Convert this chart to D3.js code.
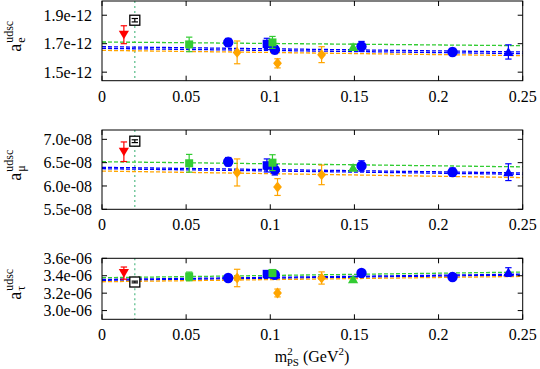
<!DOCTYPE html>
<html><head><meta charset="utf-8">
<script src="https://cdn.jsdelivr.net/npm/d3@7"></script>
<style>body{margin:0;background:#fff} svg{display:block} text{font-family:"Liberation Serif","DejaVu Serif",serif;fill:#000}</style>
</head><body><svg id="c" width="540" height="369"></svg>
<script>
// ---------- data ----------
const xTicks = [0, 0.05, 0.1, 0.15, 0.2, 0.25];
const xTickLabels = ["0", "0.05", "0.1", "0.15", "0.2", "0.25"];
const physX = 0.0195;
const panelKeys = ["e", "mu", "tau"];
const panelSubs = ["e", "μ", "τ"];
const yDomains = {e: [1.44, 2.0], mu: [5.5, 7.2], tau: [2.9, 3.6]};
const yTicks = {e: [1.5, 1.7, 1.9], mu: [5.5, 6.0, 6.5, 7.0], tau: [3.0, 3.2, 3.4, 3.6]};
const yExp = {e: "e-12", mu: "e-08", tau: "e-06"};

// [value, error] per panel
const blueCircles = [
  {x: 0.0750, e: [1.709, 0.028], mu: [6.520, 0.09], tau: [3.374, 0.04]},
  {x: 0.1027, e: [1.658, 0.028], mu: [6.345, 0.11], tau: [3.411, 0.04]},
  {x: 0.1542, e: [1.681, 0.035], mu: [6.430, 0.11], tau: [3.431, 0.03]},
  {x: 0.2083, e: [1.642, 0.025], mu: [6.296, 0.09], tau: [3.385, 0.03]}
];
const blueSquares = [
  {x: 0.0980, e: [1.698, 0.040], mu: [6.440, 0.14], tau: [3.419, 0.04]}
];
const blueTriangles = [
  {x: 0.2415, e: [1.642, 0.050], mu: [6.296, 0.18], tau: [3.442, 0.05]}
];
const greenSquares = [
  {x: 0.0518, e: [1.695, 0.051], mu: [6.487, 0.19], tau: [3.392, 0.05]},
  {x: 0.1013, e: [1.709, 0.042], mu: [6.500, 0.17], tau: [3.431, 0.04]}
];
const greenTriangles = [
  {x: 0.1492, e: [1.677, 0.020], mu: [6.394, 0.06], tau: [3.362, 0.02]}
];
const orangeDiamonds = [
  {x: 0.0803, e: [1.639, 0.080], mu: [6.290, 0.29], tau: [3.374, 0.10]},
  {x: 0.1043, e: [1.562, 0.032], mu: [5.977, 0.18], tau: [3.202, 0.045]},
  {x: 0.1305, e: [1.623, 0.056], mu: [6.238, 0.21], tau: [3.374, 0.07]}
];
const redTriangles = [
  {x: 0.0130, e: [1.763, 0.063], mu: [6.734, 0.21], tau: [3.430, 0.07]}
];
const blackSquares = [
  {x: 0.0195, e: [1.865, 0.012], mu: [6.960, 0.03], tau: [3.328, 0.01]}
];
// fit lines: values at x = 0 and x = 0.25
const fitX = [0, 0.25];
const greenFit = {e: [1.712, 1.686], mu: [6.52, 6.41], tau: [3.377, 3.442]};
const blueFitA = {e: [1.679, 1.642], mu: [6.40, 6.28], tau: [3.357, 3.418]};
const blueFitB = {e: [1.667, 1.630], mu: [6.37, 6.25], tau: [3.347, 3.408]};
const orangeFit = {e: [1.653, 1.616], mu: [6.32, 6.18], tau: [3.331, 3.392]};

// ---------- layout ----------
const svg = d3.select("#c");
const X0 = 102, X1 = 522.7;
const panelBox = [[1, 80.7], [130, 209.3], [258.3, 319.3]];
const x = d3.scaleLinear().domain([0, 0.25]).range([X0, X1]);
const COL = {blue: "#0000ff", green: "#33cc33", orange: "#ffa500", red: "#ff0000", black: "#000", vline: "#55bb88"};

panelKeys.forEach((k, i) => {
  const [top, bot] = panelBox[i];
  const y = d3.scaleLinear().domain(yDomains[k]).range([bot, top]);
  const g = svg.append("g");

  // vertical physical point line
  g.append("line").attr("x1", x(physX)).attr("x2", x(physX)).attr("y1", top).attr("y2", bot)
    .attr("stroke", COL.vline).attr("stroke-width", 1.2).attr("stroke-dasharray", "2,3");

  // fit lines
  const fits = [[greenFit, COL.green], [blueFitA, COL.blue], [blueFitB, COL.blue], [orangeFit, COL.orange]];
  fits.forEach(([f, c]) => {
    g.append("line").attr("x1", x(fitX[0])).attr("x2", x(fitX[1]))
      .attr("y1", y(f[k][0])).attr("y2", y(f[k][1]))
      .attr("stroke", c).attr("stroke-width", 1.3).attr("stroke-dasharray", "4,2");
  });

  function errbars(data, color) {
    data.forEach(d => {
      const [v, e] = d[k];
      const cx = x(d.x);
      g.append("line").attr("x1", cx).attr("x2", cx).attr("y1", y(v - e)).attr("y2", y(v + e))
        .attr("stroke", color).attr("stroke-width", 1.2);
      [v - e, v + e].forEach(t => g.append("line").attr("x1", cx - 3.2).attr("x2", cx + 3.2)
        .attr("y1", y(t)).attr("y2", y(t)).attr("stroke", color).attr("stroke-width", 1.2));
    });
  }
  function markers(data, color, type, size) {
    errbars(data, color);
    data.forEach(d => {
      g.append("path").attr("d", d3.symbol().type(type).size(size)())
        .attr("transform", `translate(${x(d.x)},${y(d[k][0])})`)
        .attr("fill", color);
    });
  }
  const downTri = {draw(ctx, size) {const s = Math.sqrt(size) * 0.62; ctx.moveTo(-s, -s * 0.8); ctx.lineTo(s, -s * 0.8); ctx.lineTo(0, s * 0.9); ctx.closePath();}};
  const upTri = {draw(ctx, size) {const s = Math.sqrt(size) * 0.62; ctx.moveTo(-s, s * 0.8); ctx.lineTo(s, s * 0.8); ctx.lineTo(0, -s * 0.9); ctx.closePath();}};
  const diamond = {draw(ctx, size) {const s = Math.sqrt(size) * 0.62; ctx.moveTo(0, -s); ctx.lineTo(s * 0.8, 0); ctx.lineTo(0, s); ctx.lineTo(-s * 0.8, 0); ctx.closePath();}};

  markers(orangeDiamonds, COL.orange, diamond, 78);
  markers(blueSquares, COL.blue, d3.symbolSquare, 72);
  markers(blueCircles, COL.blue, d3.symbolCircle, 85);
  markers(blueTriangles, COL.blue, upTri, 68);
  markers(greenSquares, COL.green, d3.symbolSquare, 64);
  markers(greenTriangles, COL.green, upTri, 68);
  markers(redTriangles, COL.red, downTri, 68);
  // open black square
  blackSquares.forEach(d => {
    const cx = x(d.x), cy = y(d[k][0]);
    g.append("rect").attr("x", cx - 5).attr("y", cy - 5).attr("width", 10).attr("height", 10)
      .attr("fill", "#fff").attr("stroke", "#000").attr("stroke-width", 1.3);
  });
  errbars(blackSquares, COL.black);

  // frame
  g.append("rect").attr("x", X0).attr("y", top).attr("width", X1 - X0).attr("height", bot - top)
    .attr("fill", "none").attr("stroke", "#000").attr("stroke-width", 1);
  // ticks
  xTicks.forEach((t, j) => {
    const px = x(t);
    g.append("line").attr("x1", px).attr("x2", px).attr("y1", bot).attr("y2", bot - 5).attr("stroke", "#000");
    g.append("line").attr("x1", px).attr("x2", px).attr("y1", top).attr("y2", top + 5).attr("stroke", "#000");
    g.append("text").attr("x", px).attr("y", bot + 21).attr("text-anchor", "middle")
      .attr("font-size", 16).text(xTickLabels[j]);
  });
  yTicks[k].forEach(t => {
    const py = y(t);
    g.append("line").attr("x1", X0).attr("x2", X0 + 5).attr("y1", py).attr("y2", py).attr("stroke", "#000");
    g.append("line").attr("x1", X1).attr("x2", X1 - 5).attr("y1", py).attr("y2", py).attr("stroke", "#000");
    g.append("text").attr("x", 92).attr("y", py).attr("dy", "0.35em").attr("text-anchor", "end")
      .attr("font-size", 16).text(t.toFixed(1) + yExp[k]);
  });
  // y label
  const cy = (top + bot) / 2 + 3;
  const lab = g.append("g").attr("transform", `translate(21,${cy + 8}) rotate(-90)`);
  lab.append("text").attr("x", 0).attr("y", 0).attr("font-size", 18).text("a");
  lab.append("text").attr("x", 9).attr("y", 4).attr("font-size", 12).text(panelSubs[i]);
  lab.append("text").attr("x", 9).attr("y", -8).attr("font-size", 12).text("udsc");
});

// x-axis title
const xt = svg.append("text").attr("x", 312).attr("y", 362).attr("text-anchor", "middle").attr("font-size", 16);
xt.append("tspan").text("m");
xt.append("tspan").attr("font-size", 11).attr("dy", -7).text("2");
xt.append("tspan").attr("font-size", 11).attr("dx", -6).attr("dy", 11).text("PS");
xt.append("tspan").attr("dy", -4).text(" (GeV");
xt.append("tspan").attr("font-size", 11).attr("dy", -7).text("2");
xt.append("tspan").attr("dy", 7).text(")");
</script></body></html>
